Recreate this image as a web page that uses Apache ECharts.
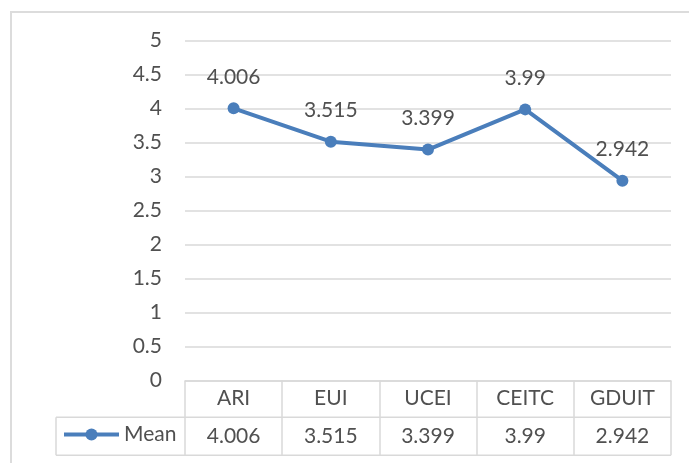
<!DOCTYPE html>
<html>
<head>
<meta charset="utf-8">
<script src="https://cdn.jsdelivr.net/npm/echarts@6/dist/echarts.min.js"></script>
<style>
html,body{margin:0;padding:0;background:#fff;}
#chart{width:689px;height:463px;}
</style>
</head>
<body>
<div id="chart"></div>
<script>
const categories = ['ARI', 'EUI', 'UCEI', 'CEITC', 'GDUIT'];
const seriesName = 'Mean';
const meanValues = [4.006, 3.515, 3.399, 3.99, 2.942];
const yTicks = { min: 0, max: 5, interval: 0.5 };

const FONT = 'Lato';
const TXT = '#505050';
const LINE = '#4a7ebb';
const GRID = '#d9d9d9';
const FS = 21;

const chart = echarts.init(document.getElementById('chart'), null, { renderer: 'canvas' });

const gridLeft = 185, gridRight = 18, gridTop = 40.7, gridBottom = 82.3;
const row1H = 36.5, row2H = 38;

chart.setOption({
  backgroundColor: '#fff',
  animation: false,
  textStyle: { fontFamily: FONT },
  grid: { left: gridLeft, right: gridRight, top: gridTop, bottom: gridBottom, containLabel: false },
  legend: {
    data: [seriesName],
    left: 62,
    top: 424,
    padding: 0,
    itemWidth: 55,
    itemHeight: 15,
    itemGap: 5,
    lineStyle: { width: 4, color: LINE },
    itemStyle: { color: LINE },
    textStyle: { fontFamily: FONT, fontSize: FS, color: TXT }
  },
  xAxis: [
    {
      type: 'category',
      data: categories,
      boundaryGap: true,
      axisLine: { show: true, lineStyle: { color: GRID, width: 1.5 } },
      axisTick: { show: true, interval: 0, length: row1H + row2H, lineStyle: { color: GRID, width: 1.5 } },
      axisLabel: { interval: 0, fontFamily: FONT, fontSize: FS, color: TXT, margin: 18, verticalAlign: 'middle' },
      splitLine: { show: false }
    },
    {
      type: 'category',
      data: categories,
      position: 'bottom',
      boundaryGap: true,
      axisLine: { show: false },
      axisTick: { show: false },
      axisLabel: {
        interval: 0, fontFamily: FONT, fontSize: FS, color: TXT,
        margin: row1H + row2H / 2, verticalAlign: 'middle',
        formatter: (v, i) => String(meanValues[i])
      },
      splitLine: { show: false }
    }
  ],
  yAxis: {
    type: 'value',
    min: yTicks.min,
    max: yTicks.max,
    interval: yTicks.interval,
    axisLine: { show: false },
    axisTick: { show: false },
    axisLabel: { fontFamily: FONT, fontSize: FS, color: TXT, margin: 23 },
    splitLine: { show: true, lineStyle: { color: GRID, width: 1.5 } }
  },
  series: [{
    name: seriesName,
    type: 'line',
    data: meanValues,
    symbol: 'circle',
    symbolSize: 12,
    color: LINE,
    lineStyle: { color: LINE, width: 4 },
    itemStyle: { color: LINE },
    label: {
      show: true, position: 'top', distance: 15,
      fontFamily: FONT, fontSize: FS, color: TXT
    }
  }]
});

// table lines and outer frame
const y0 = chart.convertToPixel({ yAxisIndex: 0 }, 0);
const xR = 689 - gridRight;
const legendLeft = 56;
const ym = y0 + row1H, yb = y0 + row1H + row2H;
const ls = { stroke: GRID, lineWidth: 1.5 };
chart.setOption({
  graphic: [
    { type: 'line', shape: { x1: legendLeft, y1: ym, x2: xR, y2: ym }, style: ls, silent: true },
    { type: 'line', shape: { x1: legendLeft, y1: yb, x2: xR, y2: yb }, style: ls, silent: true },
    { type: 'line', shape: { x1: legendLeft, y1: ym, x2: legendLeft, y2: yb }, style: ls, silent: true },
    { type: 'line', shape: { x1: 10, y1: 12, x2: 689, y2: 12 }, style: { stroke: '#dcdcdc', lineWidth: 2 }, silent: true },
    { type: 'line', shape: { x1: 11, y1: 11, x2: 11, y2: 463 }, style: { stroke: '#dcdcdc', lineWidth: 2 }, silent: true }
  ]
});
</script>
</body>
</html>
